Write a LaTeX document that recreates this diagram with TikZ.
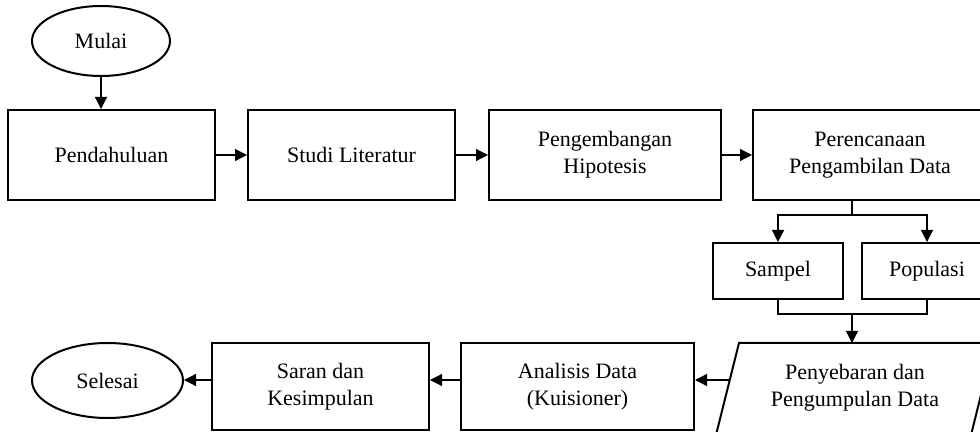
\documentclass[tikz,border=0pt]{standalone}
\usepackage{fontspec}
\setmainfont{Liberation Serif}
\usetikzlibrary{arrows.meta,shapes.geometric}
\begin{document}
\begin{tikzpicture}[x=0.5pt,y=-0.5pt,
  txt/.style={font=\fontsize{11}{13.5}\selectfont,align=center},
  box/.style={txt,draw,line width=1pt,inner sep=0pt},
  term/.style={txt,draw,ellipse,line width=1pt,inner sep=0pt},
  conn/.style={line width=0.6pt,-{Triangle[length=6pt,width=6pt]}},
  link/.style={line width=0.6pt},
  shapeline/.style={line width=1pt}]
\useasboundingbox (0,0) rectangle (980,432);
\clip (0,0) rectangle (980,432);
% top row
\node[term,minimum width=69pt,minimum height=35pt] (mulai) at (101,41) {Mulai};
\node[box,minimum width=103.5pt,minimum height=45pt] (pend) at (111.5,155) {Pendahuluan};
\node[box,minimum width=103.5pt,minimum height=45pt] (studi) at (351.5,155) {Studi Literatur};
\node[box,minimum width=116pt,minimum height=45pt] (hipo) at (605,155) {Pengembangan\\Hipotesis};
\node[box,minimum width=117pt,minimum height=45pt] (renc) at (870,155) {Perencanaan\\Pengambilan Data};
% middle
\node[box,minimum width=65pt,minimum height=28pt] (sampel) at (778,271) {Sampel};
\node[box,minimum width=65pt,minimum height=28pt] (pop) at (927,271) {Populasi};
% parallelogram
\coordinate (pa) at (739,343);
\coordinate (pb) at (994,343);
\coordinate (pc) at (971,435);
\coordinate (pd) at (716,435);
\draw[shapeline] (pa) -- (pb) -- (pc) -- (pd) -- cycle;
\node[txt] (pen) at (855,388) {Penyebaran dan\\Pengumpulan Data};
\coordinate (ptop) at (852,343);
\coordinate (pleft) at (730,380);
% bottom row
\node[box,minimum width=116.5pt,minimum height=43.5pt] (anal) at (577.5,386.5) {Analisis Data\\(Kuisioner)};
\node[box,minimum width=108.5pt,minimum height=43.5pt] (saran) at (320.5,386.5) {Saran dan\\Kesimpulan};
\node[term,minimum width=75.5pt,minimum height=37.5pt] (selesai) at (107.5,380.5) {Selesai};
% connectors
\draw[conn] (mulai.south) -- (mulai.south |- pend.north);
\draw[conn] (pend.east) -- (studi.west);
\draw[conn] (studi.east) -- (hipo.west);
\draw[conn] (hipo.east) -- (renc.west);
\coordinate (f1) at (852,215);
\draw[link] (renc.south -| f1) -- (f1);
\draw[conn] (f1) -| (sampel.north);
\draw[conn] (f1) -| (pop.north);
\coordinate (m1) at (852,314);
\draw[link] (sampel.south) |- (m1) -| (pop.south);
\draw[conn] (m1) -- (ptop);
\draw[conn] (pleft) -- (pleft -| anal.east);
\draw[conn] (anal.west |- pleft) -- (saran.east |- pleft);
\draw[conn] (saran.west |- pleft) -- (selesai.east |- pleft);
\end{tikzpicture}
\end{document}
